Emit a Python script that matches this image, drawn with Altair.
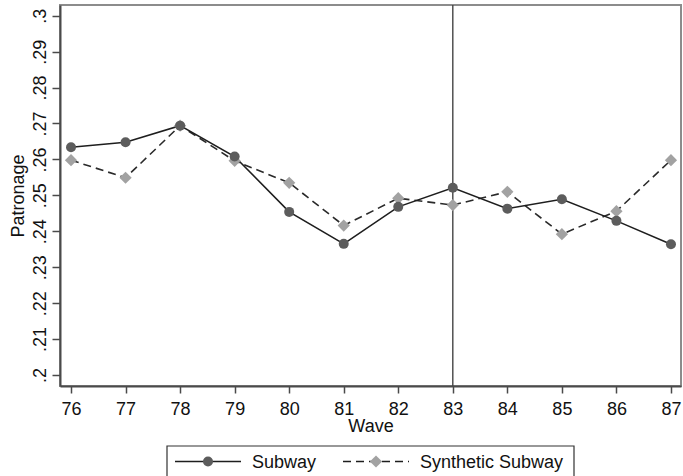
import altair as alt
import pandas as pd

# Patronage by survey wave: observed subway vs. synthetic control
waves = [76, 77, 78, 79, 80, 81, 82, 83, 84, 85, 86, 87]
subway = [0.2634, 0.2648, 0.2694, 0.2608, 0.2454, 0.2365,
          0.2468, 0.2521, 0.2463, 0.2489, 0.2429, 0.2364]
synthetic = [0.2598, 0.2549, 0.2694, 0.2596, 0.2535, 0.2416,
             0.2492, 0.2473, 0.2510, 0.2392, 0.2456, 0.2598]
series_names = ["Subway", "Synthetic Subway"]
treatment_wave = [83]
y_ticks = [0.20, 0.21, 0.22, 0.23, 0.24, 0.25, 0.26, 0.27, 0.28, 0.29, 0.30]

FONT = "Liberation Sans"
FS = 18
W, H = 621, 381

df = pd.concat([
    pd.DataFrame({"wave": waves, "value": subway, "series": series_names[0]}),
    pd.DataFrame({"wave": waves, "value": synthetic, "series": series_names[1]}),
])

x_scale = alt.Scale(domain=[75.798, 87.184], nice=False, zero=False)
y_scale = alt.Scale(domain=[0.19694, 0.30298], nice=False, zero=False)

x_axis = alt.Axis(
    values=waves, format="d", title="Wave", grid=False,
    tickSize=7, labelPadding=21, labelBaseline="alphabetic",
    titleX=W / 2, titleY=45, titleBaseline="alphabetic",
)
y_axis = alt.Axis(
    values=y_ticks, labelExpr="substring(format(datum.value, '.2~f'), 1)",
    title="Patronage", grid=False, tickSize=8, labelPadding=7,
    labelAngle=270, labelAlign="center", labelBaseline="alphabetic",
    titleAngle=270, titleX=-37, titleY=H / 2, titleAlign="center",
    titleBaseline="alphabetic",
)

base = alt.Chart(df).encode(
    x=alt.X("wave:Q", scale=x_scale, axis=x_axis),
    y=alt.Y("value:Q", scale=y_scale, axis=y_axis),
)

sub = base.transform_filter(alt.datum.series == series_names[0])
syn = base.transform_filter(alt.datum.series == series_names[1])

sub_line = sub.mark_line(color="#1e1e1e", strokeWidth=1.6)
syn_line = syn.mark_line(color="#2a2a2a", strokeWidth=1.6, strokeDash=[8, 5])
sub_pts = sub.mark_point(shape="circle", filled=True, size=100,
                         color="#5c5c5c", opacity=1)
syn_pts = syn.mark_point(shape="diamond", filled=True, size=150,
                         color="#a2a2a2", opacity=1)

vline = alt.Chart(pd.DataFrame({"wave": treatment_wave})).mark_rule(
    color="#444444", strokeWidth=1.4
).encode(x=alt.X("wave:Q", scale=x_scale))

# Legend drawn below the plot: boxed, line-with-marker keys
legend_box = alt.Chart(pd.DataFrame({"k": [0]})).mark_rect(
    fill="white", stroke="#333333", strokeWidth=1.2
).encode(x=alt.value(107), x2=alt.value(514), y=alt.value(441), y2=alt.value(480))


def legend_entry(name, x0, dash, shape, size, fill):
    src = alt.Chart(pd.DataFrame({"label": [name]}))
    ly = 456.5
    rule_kw = dict(color="#1e1e1e", strokeWidth=1.6)
    if dash:
        rule_kw["strokeDash"] = dash
    key = src.mark_rule(**rule_kw).encode(
        x=alt.value(x0), x2=alt.value(x0 + 66), y=alt.value(ly))
    mark = src.mark_point(shape=shape, filled=True, size=size, color=fill,
                          opacity=1).encode(x=alt.value(x0 + 33), y=alt.value(ly))
    label = src.mark_text(align="left", baseline="middle", font=FONT,
                          fontSize=FS, color="#111111").encode(
        x=alt.value(x0 + 77), y=alt.value(ly + 1), text="label:N")
    return [key, mark, label]


legend_layers = (
    legend_entry(series_names[0], 115, None, "circle", 100, "#5c5c5c")
    + legend_entry(series_names[1], 283, [8, 5], "diamond", 150, "#a2a2a2")
)

chart = alt.layer(
    vline, syn_line, sub_line, syn_pts, sub_pts, legend_box, *legend_layers
).properties(
    width=W, height=H,
    autosize=alt.AutoSizeParams(type="none"),
    padding={"left": 60, "top": 5, "right": 2, "bottom": 90},
    background="white",
).configure_view(
    stroke="#8c8c8c", strokeWidth=2
).configure_axis(
    labelFont=FONT, titleFont=FONT, labelFontSize=FS, titleFontSize=FS,
    labelColor="#111111", titleColor="#111111", titleFontWeight="normal",
    domainColor="#4a4a4a", domainWidth=2, tickColor="#4a4a4a", tickWidth=1.5,
)

chart.save("out.html", embed_options={"renderer": "svg", "actions": False})
